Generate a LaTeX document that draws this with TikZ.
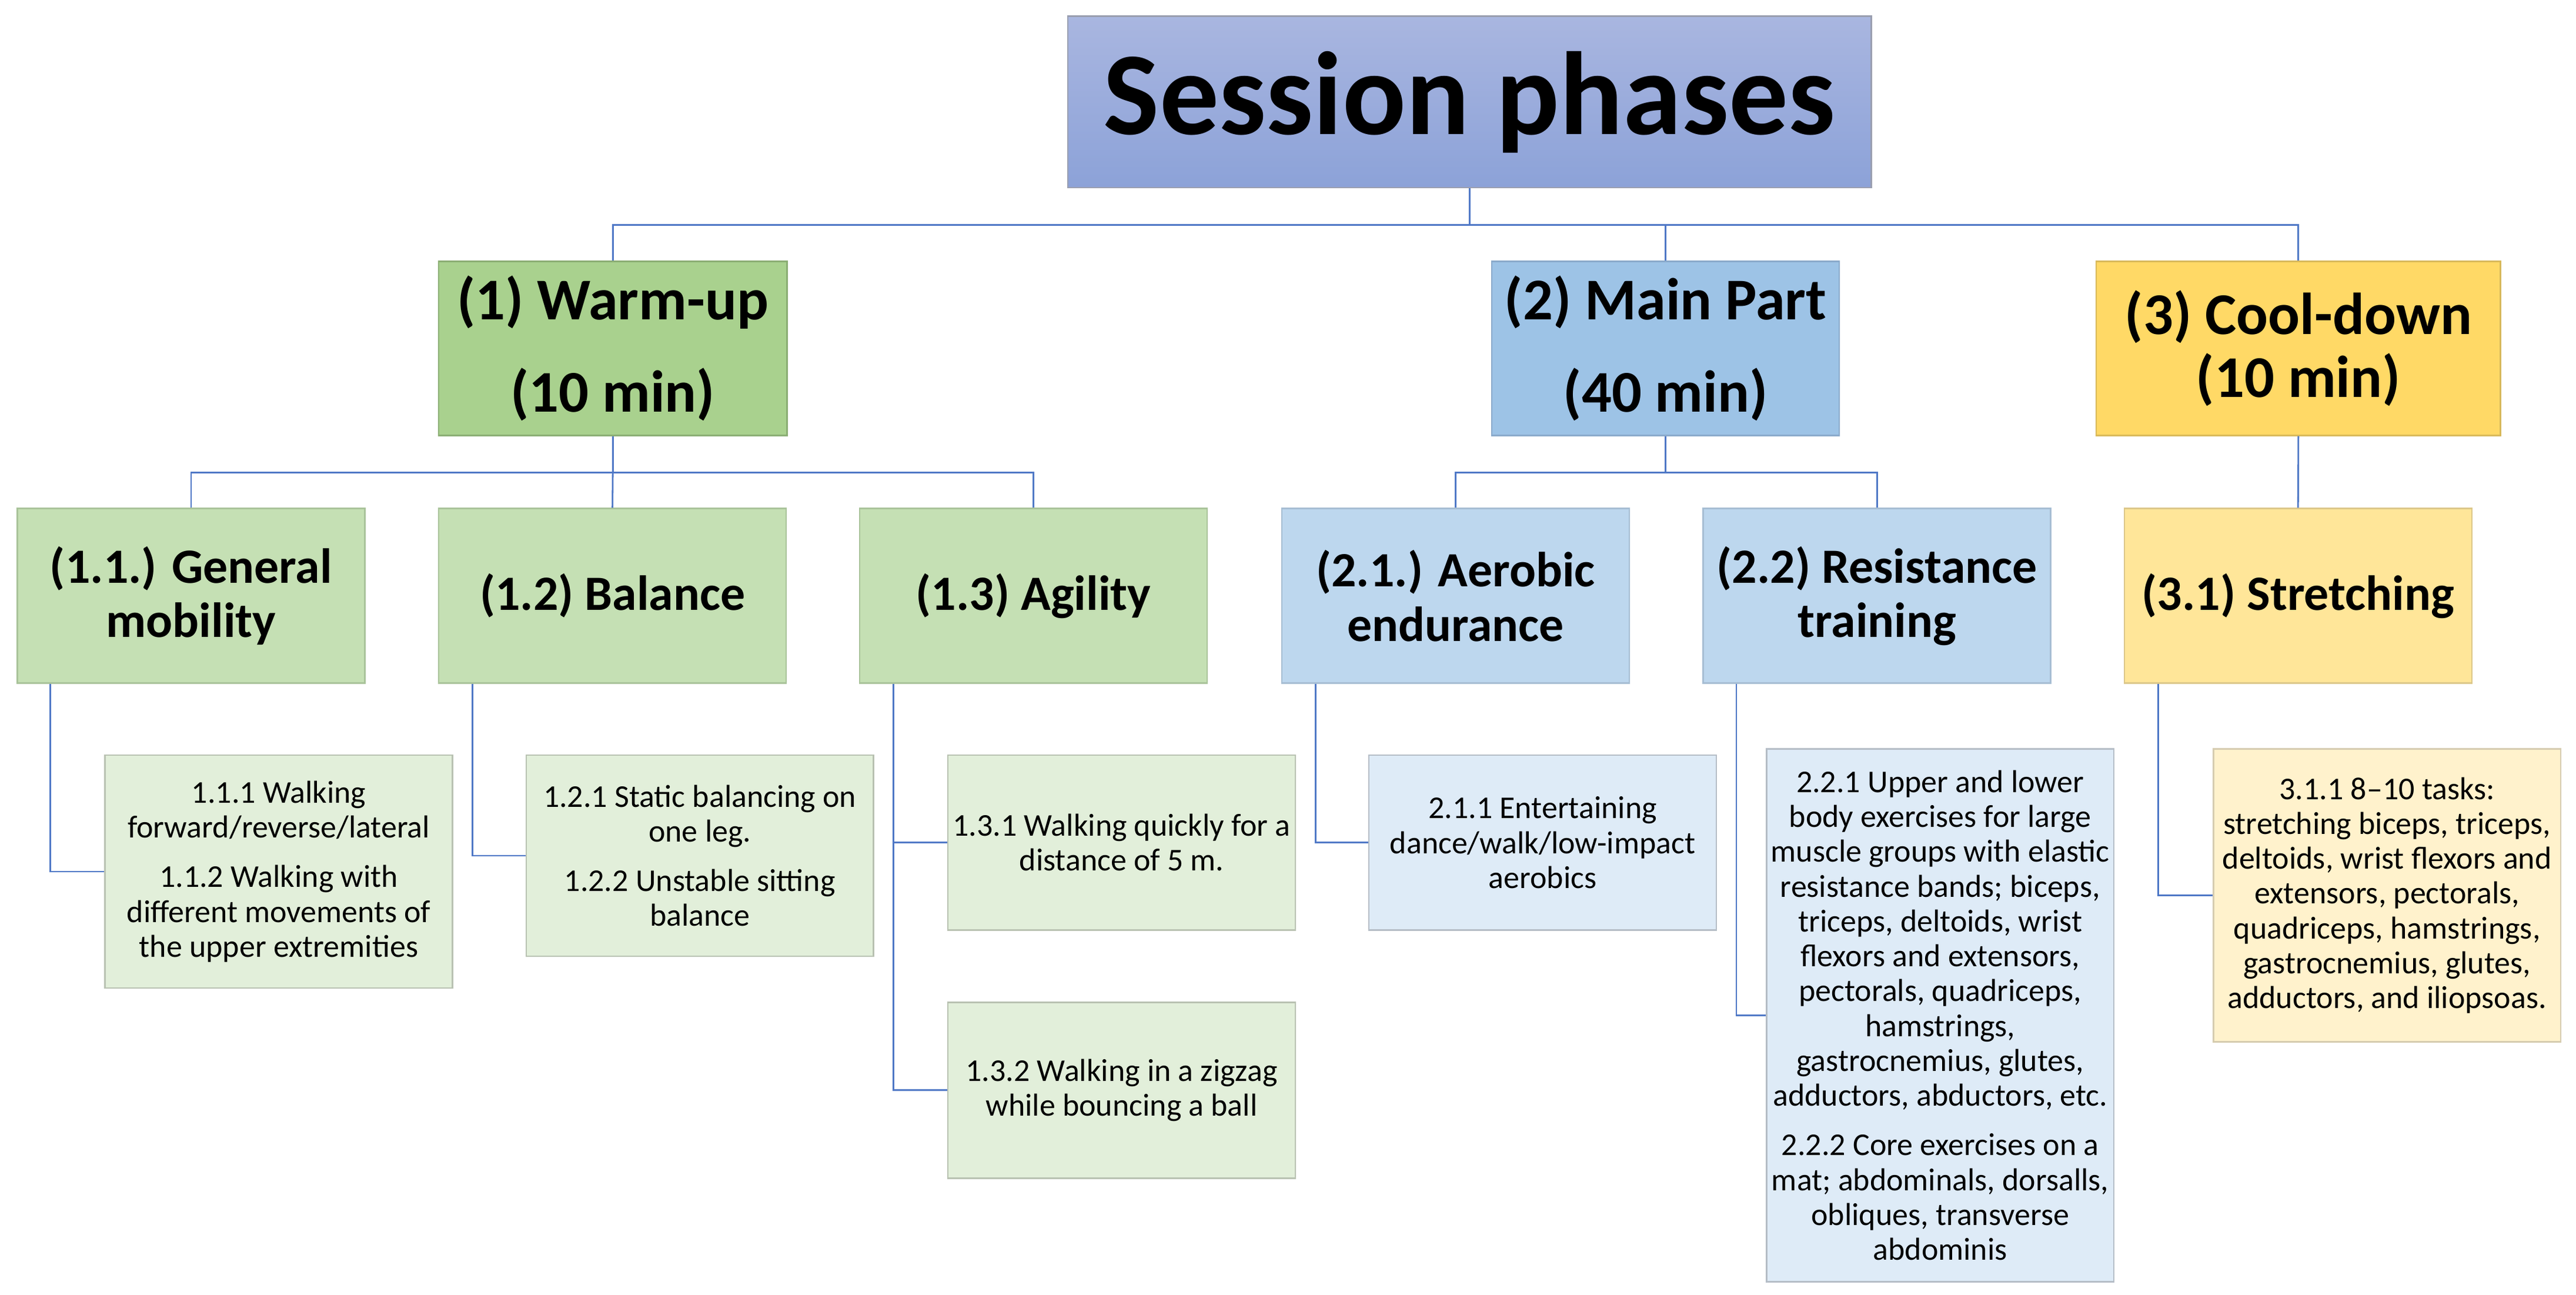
\documentclass[tikz,border=0pt]{standalone}
\usepackage{fontspec}
\setmainfont{Carlito}
\definecolor{conn}{HTML}{4F78C6}
\definecolor{titletop}{HTML}{A9B6E0}
\definecolor{titlebot}{HTML}{8CA2D8}
\definecolor{titleline}{HTML}{9A9FB0}
\definecolor{gOne}{HTML}{A9D18E}
\definecolor{gOneLine}{HTML}{8BAE74}
\definecolor{gTwo}{HTML}{C5E0B4}
\definecolor{gTwoLine}{HTML}{A9C39A}
\definecolor{gThree}{HTML}{E2EFDA}
\definecolor{gThreeLine}{HTML}{B9C2B2}
\definecolor{bOne}{HTML}{9DC3E6}
\definecolor{bOneLine}{HTML}{8AAACB}
\definecolor{bTwo}{HTML}{BDD7EE}
\definecolor{bTwoLine}{HTML}{A6BDD3}
\definecolor{bThree}{HTML}{DEEBF7}
\definecolor{bThreeLine}{HTML}{B5BDC6}
\definecolor{yOne}{HTML}{FFD966}
\definecolor{yOneLine}{HTML}{D9B95A}
\definecolor{yTwo}{HTML}{FFE699}
\definecolor{yTwoLine}{HTML}{DCC78A}
\definecolor{yThree}{HTML}{FFF2CC}
\definecolor{yThreeLine}{HTML}{D6CCB0}
\tikzset{
  box/.style={draw, line width=0.9pt, inner sep=0pt, align=center, anchor=center, text=black},
  titlebox/.style={box, draw=titleline, top color=titletop, bottom color=titlebot,
    minimum width=489pt, minimum height=104.5pt, font=\bfseries\fontsize{72}{80}\selectfont},
  lvone/.style={box, minimum width=212pt, minimum height=106pt, font=\bfseries\fontsize{36}{38}\selectfont},
  lvtwo/.style={box, minimum width=211.5pt, minimum height=106.3pt, font=\bfseries\fontsize{30}{33}\selectfont},
  lvthree/.style={box, minimum width=211.5pt, font=\fontsize{19.3}{21.2}\selectfont},
  link/.style={draw=conn, line width=1pt},
}
\begin{document}
\begin{tikzpicture}[x=1pt,y=-1pt]
\useasboundingbox (0,0) rectangle (1568,788);
% title
\node[titlebox] (title) at (894.5,62) {Session phases};
% level 1
\node[lvone, fill=gOne, draw=gOneLine] (wu) at (373,212) {(1) Warm-up\\[18pt](10 min)};
\node[lvone, fill=bOne, draw=bOneLine, minimum width=211.5pt] (mp) at (1013.8,212) {(2) Main Part\\[18pt](40 min)};
\node[lvone, fill=yOne, draw=yOneLine, minimum width=246pt] (cd) at (1399,212) {(3) Cool-down\\(10 min)};
% level 2
\node[lvtwo, fill=gTwo, draw=gTwoLine] (gm) at (116.3,362.6) {(1.1.) General\\mobility};
\node[lvtwo, fill=gTwo, draw=gTwoLine] (bal) at (372.8,362.6) {(1.2) Balance};
\node[lvtwo, fill=gTwo, draw=gTwoLine] (ag) at (629,362.6) {(1.3) Agility};
\node[lvtwo, fill=bTwo, draw=bTwoLine] (ae) at (886,362.6) {(2.1.) Aerobic\\endurance};
\node[lvtwo, fill=bTwo, draw=bTwoLine] (rt) at (1142.5,362.6) {(2.2) Resistance\\training};
\node[lvtwo, fill=yTwo, draw=yTwoLine] (st) at (1398.8,362.6) {(3.1) Stretching};
% level 3
\node[lvthree, fill=gThree, draw=gThreeLine, minimum height=141.8pt] (g1) at (169.65,530.4)
  {1.1.1 Walking\\forward/reverse/lateral\\[9pt]1.1.2 Walking with\\different movements of\\the upper extremities};
\node[lvthree, fill=gThree, draw=gThreeLine, minimum height=122.5pt] (b1) at (426,520.75)
  {1.2.1 Static balancing on\\one leg.\\[9pt]1.2.2 Unstable sitting\\balance};
\node[lvthree, fill=gThree, draw=gThreeLine, minimum height=106.5pt] (a1) at (682.75,512.75)
  {1.3.1 Walking quickly for a\\distance of 5 m.};
\node[lvthree, fill=gThree, draw=gThreeLine, minimum height=107pt] (a2) at (682.75,663.5)
  {1.3.2 Walking in a zigzag\\while bouncing a ball};
\node[lvthree, fill=bThree, draw=bThreeLine, minimum height=106.5pt] (e1) at (939,512.75)
  {2.1.1 Entertaining\\dance/walk/low-impact\\aerobics};
\node[lvthree, fill=bThree, draw=bThreeLine, minimum height=324.2pt] (r1) at (1181,617.9)
  {2.2.1 Upper and lower\\body exercises for large\\muscle groups with elastic\\resistance bands; biceps,\\triceps, deltoids, wrist\\flexors and extensors,\\pectorals, quadriceps,\\hamstrings,\\gastrocnemius, glutes,\\adductors, abductors, etc.\\[9pt]2.2.2 Core exercises on a\\mat; abdominals, dorsalls,\\obliques, transverse\\abdominis};
\node[lvthree, fill=yThree, draw=yThreeLine, minimum height=178.2pt] (s1) at (1453,544.9)
  {3.1.1 8–10 tasks:\\stretching biceps, triceps,\\deltoids, wrist flexors and\\extensors, pectorals,\\quadriceps, hamstrings,\\gastrocnemius, glutes,\\adductors, and iliopsoas.};
% connectors level 0-1
\coordinate (bus0) at (894.5,137);
\draw[link] (title.south) -- (bus0);
\draw[link] (wu.north) |- (bus0);
\draw[link] (mp.north) |- (bus0);
\draw[link] (cd.north) |- (bus0);
% level 1-2
\coordinate (bus1) at (373,287.6);
\draw[link] (wu.south) -- (bus1);
\draw[link] (gm.north) |- (bus1);
\draw[link] (bal.north) -- (bus1);
\draw[link] (ag.north) |- (bus1);
\coordinate (bus2) at (1013.8,287.6);
\draw[link] (mp.south) -- (bus2);
\draw[link] (ae.north) |- (bus2);
\draw[link] (rt.north) |- (bus2);
\draw[link] (cd.south) -- (st.north);
% level 2-3
\draw[link] ([xshift=20.5pt]gm.south west) |- (g1.west);
\draw[link] ([xshift=21pt]bal.south west) |- (b1.west);
\draw[link] ([xshift=21pt]ag.south west) |- (a1.west);
\draw[link] ([xshift=21pt]ag.south west) |- (a2.west);
\draw[link] ([xshift=21pt]ae.south west) |- (e1.west);
\draw[link] ([xshift=20.6pt]rt.south west) |- (r1.west);
\draw[link] ([xshift=21pt]st.south west) |- (s1.west);
\end{tikzpicture}
\end{document}
